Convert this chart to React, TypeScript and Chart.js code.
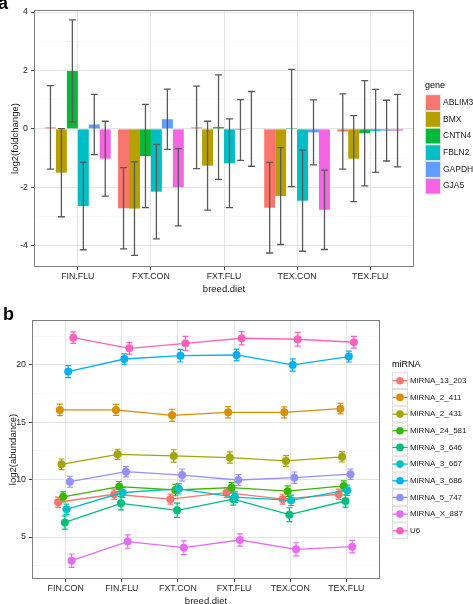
import React, { useEffect, useRef } from 'react';
import { Chart, registerables } from 'chart.js';
Chart.register(...registerables);

// ---------- Panel a data ----------
const breedDietA = ['FIN.FLU', 'FXT.CON', 'FXT.FLU', 'TEX.CON', 'TEX.FLU'];
const genes = ['ABLIM3', 'BMX', 'CNTN4', 'FBLN2', 'GAPDH', 'GJA5'];
const geneColors = ['#F8766D', '#B79F00', '#00BA38', '#00BFC4', '#619CFF', '#F564E3'];
const ablim3 = [0.05, -2.72, 0.05, -2.7, -0.09];
const ablim3Err = [1.43, 1.39, 1.41, 1.55, 1.29];
const bmx = [-1.5, -2.73, -1.26, -2.3, -1.02];
const bmxErr = [1.51, 1.6, 1.52, 1.66, 1.47];
const cntn4 = [1.98, -0.93, 0.06, 0.03, -0.15];
const cntn4Err = [1.75, 1.77, 1.79, 2.01, 1.8];
const fbln2 = [-2.64, -2.15, -1.18, -2.46, -0.07];
const fbln2Err = [1.5, 1.62, 1.52, 1.73, 1.42];
const gapdh = [0.15, 0.33, -0.04, -0.12, -0.06];
const gapdhErr = [1.03, 1.03, 1.04, 1.11, 1.04];
const gja5 = [-1.02, -2.0, 0.0, -2.77, -0.06];
const gja5Err = [1.28, 1.32, 1.28, 1.36, 1.24];
const yTicksA = [-4, -3, -2, -1, 0, 1, 2, 3, 4];
const yMajorA = [-4, -2, 0, 2, 4];

// ---------- Panel b data ----------
const breedDietB = ['FIN.CON', 'FIN.FLU', 'FXT.CON', 'FXT.FLU', 'TEX.CON', 'TEX.FLU'];
const mirnas = ['MiRNA_13_203', 'MiRNA_2_411', 'MiRNA_2_431', 'MiRNA_24_581', 'MiRNA_3_646', 'MiRNA_3_667', 'MiRNA_3_686', 'MiRNA_5_747', 'MiRNA_X_887', 'U6'];
const mirnaColors = ['#F8766D', '#D89000', '#A3A500', '#39B600', '#00BF7D', '#00BFC4', '#00B0F6', '#9590FF', '#E76BF3', '#FF62BC'];
const mirna13_203 = [8.03, 8.73, 8.3, 8.87, 8.3, 8.73];
const mirna13_203Err = [0.45, 0.44, 0.44, 0.44, 0.43, 0.44];
const mirna2_411 = [16.08, 16.08, 15.61, 15.87, 15.87, 16.19];
const mirna2_411Err = [0.5, 0.48, 0.53, 0.49, 0.48, 0.46];
const mirna2_431 = [11.34, 12.21, 12.07, 11.93, 11.63, 11.99];
const mirna2_431Err = [0.46, 0.44, 0.54, 0.49, 0.47, 0.45];
const mirna24_581 = [8.5, 9.4, 9.1, 9.3, 9.0, 9.45];
const mirna24_581Err = [0.44, 0.44, 0.5, 0.45, 0.46, 0.44];
const mirna3_646 = [6.27, 7.94, 7.33, 8.3, 6.95, 8.14];
const mirna3_646Err = [0.58, 0.58, 0.62, 0.52, 0.6, 0.54];
const mirna3_667 = [7.42, 8.88, 9.2, 8.48, 8.2, 9.08];
const mirna3_667Err = [0.44, 0.43, 0.45, 0.46, 0.45, 0.45];
const mirna3_686 = [19.42, 20.52, 20.81, 20.87, 20.0, 20.73];
const mirna3_686Err = [0.52, 0.44, 0.55, 0.51, 0.53, 0.47];
const mirna5_747 = [9.82, 10.7, 10.4, 9.97, 10.17, 10.48];
const mirna5_747Err = [0.48, 0.45, 0.53, 0.48, 0.5, 0.45];
const mirnaX_887 = [2.94, 4.6, 4.07, 4.74, 3.93, 4.16];
const mirnaX_887Err = [0.58, 0.58, 0.6, 0.53, 0.57, 0.54];
const u6 = [22.38, 21.45, 21.89, 22.33, 22.24, 21.98];
const u6Err = [0.5, 0.51, 0.61, 0.57, 0.6, 0.51];
const yTicksB = [2.5, 5, 7.5, 10, 12.5, 15, 17.5, 20, 22.5];
const yMajorB = [5, 10, 15, 20];

const seriesA = [ablim3, bmx, cntn4, fbln2, gapdh, gja5];
const errA = [ablim3Err, bmxErr, cntn4Err, fbln2Err, gapdhErr, gja5Err];
const seriesB = [mirna13_203, mirna2_411, mirna2_431, mirna24_581, mirna3_646, mirna3_667, mirna3_686, mirna5_747, mirnaX_887, u6];
const errB = [mirna13_203Err, mirna2_411Err, mirna2_431Err, mirna24_581Err, mirna3_646Err, mirna3_667Err, mirna3_686Err, mirna5_747Err, mirnaX_887Err, u6Err];

const FONT = "'Liberation Sans', Arial, Helvetica, sans-serif";
const DODGE = 0.3;
const TICK_COLOR = '#262626';

const gridOpts = (major: number[] | null) => ({
  color: (c: any) => (major === null || major.includes(c.tick?.value) ? '#E4E4E4' : '#F3F3F3'),
  lineWidth: (c: any) => (major === null || major.includes(c.tick?.value) ? 1 : 0.6),
  tickColor: (c: any) => (major === null || major.includes(c.tick?.value) ? '#444444' : 'rgba(0,0,0,0)'),
  tickWidth: 1,
  tickLength: 3,
  drawTicks: true,
  offset: false,
});

const borderPlugin = {
  id: 'panelBorder',
  afterDatasetsDraw(chart: any) {
    const { ctx, chartArea: a } = chart;
    ctx.save();
    ctx.strokeStyle = '#7F7F7F';
    ctx.lineWidth = 1;
    ctx.strokeRect(Math.round(a.left) + 0.5, Math.round(a.top) + 0.5, Math.round(a.right - a.left) - 1, Math.round(a.bottom - a.top) - 1);
    ctx.restore();
  },
};

const titlesPlugin = (xTitle: string, yTitle: string, panel: string, px: number, py: number) => ({
  id: 'titles',
  afterDraw(chart: any) {
    const { ctx, chartArea: a } = chart;
    ctx.save();
    ctx.fillStyle = '#1a1a1a';
    ctx.font = `9.5px ${FONT}`;
    ctx.textAlign = 'center';
    ctx.textBaseline = 'middle';
    ctx.fillText(xTitle, (a.left + a.right) / 2, a.bottom + 22);
    ctx.translate(a.left - 18.5, (a.top + a.bottom) / 2);
    ctx.rotate(-Math.PI / 2);
    ctx.fillText(yTitle, 0, 0);
    ctx.restore();
    ctx.save();
    ctx.fillStyle = '#000';
    ctx.font = `bold 18px ${FONT}`;
    ctx.textAlign = 'left';
    ctx.textBaseline = 'alphabetic';
    ctx.fillText(panel, px, py);
    ctx.restore();
  },
});

const errorBarsA = {
  id: 'errA',
  afterDatasetsDraw(chart: any) {
    const { ctx } = chart;
    const y = chart.scales.y;
    ctx.save();
    ctx.strokeStyle = '#595959';
    ctx.lineWidth = 1.3;
    chart.data.datasets.forEach((ds: any, k: number) => {
      const meta = chart.getDatasetMeta(k);
      meta.data.forEach((el: any, i: number) => {
        const v = ds.data[i].y;
        const e = ds.err[i];
        const yh = y.getPixelForValue(v + e);
        const yl = y.getPixelForValue(v - e);
        const x = el.x;
        ctx.beginPath();
        ctx.moveTo(x, yh);
        ctx.lineTo(x, yl);
        ctx.moveTo(x - 3.5, yh);
        ctx.lineTo(x + 3.5, yh);
        ctx.moveTo(x - 3.5, yl);
        ctx.lineTo(x + 3.5, yl);
        ctx.stroke();
      });
    });
    ctx.restore();
  },
};

const errorBarsB = {
  id: 'errB',
  beforeDatasetsDraw(chart: any) {
    const { ctx } = chart;
    const y = chart.scales.y;
    ctx.save();
    ctx.lineWidth = 1.2;
    chart.data.datasets.forEach((ds: any, k: number) => {
      const meta = chart.getDatasetMeta(k);
      ctx.strokeStyle = ds.borderColor;
      meta.data.forEach((el: any, i: number) => {
        const v = ds.data[i].y;
        const e = ds.err[i];
        const yh = y.getPixelForValue(v + e);
        const yl = y.getPixelForValue(v - e);
        const x = el.x;
        ctx.beginPath();
        ctx.moveTo(x, yh);
        ctx.lineTo(x, yl);
        ctx.moveTo(x - 3, yh);
        ctx.lineTo(x + 3, yh);
        ctx.moveTo(x - 3, yl);
        ctx.lineTo(x + 3, yl);
        ctx.stroke();
      });
    });
    ctx.restore();
  },
};

const legendA = {
  id: 'legendA',
  afterDraw(chart: any) {
    const { ctx } = chart;
    const x0 = 425;
    ctx.save();
    ctx.fillStyle = '#000';
    ctx.font = `9px ${FONT}`;
    ctx.textBaseline = 'middle';
    ctx.textAlign = 'left';
    ctx.fillText('gene', x0, 86);
    const h = 16.7;
    chart.data.datasets.forEach((ds: any, k: number) => {
      const top = 94.3 + k * h;
      ctx.fillStyle = '#ffffff';
      ctx.fillRect(x0, top, 16, h);
      ctx.fillStyle = ds.backgroundColor;
      ctx.fillRect(x0 + 0.5, top + 0.5, 15, h - 1);
      ctx.strokeStyle = '#E6E6E6';
      ctx.lineWidth = 0.8;
      ctx.strokeRect(x0 + 0.5, top + 0.5, 15, h - 1);
      ctx.fillStyle = '#1a1a1a';
      ctx.font = `8.5px ${FONT}`;
      ctx.fillText(ds.label, x0 + 18, top + h / 2);
    });
    ctx.restore();
  },
};

const legendB = {
  id: 'legendB',
  afterDraw(chart: any) {
    const { ctx } = chart;
    const x0 = 392;
    ctx.save();
    ctx.fillStyle = '#000';
    ctx.font = `9px ${FONT}`;
    ctx.textBaseline = 'middle';
    ctx.textAlign = 'left';
    ctx.fillText('miRNA', x0, 65);
    const h = 16.67;
    chart.data.datasets.forEach((ds: any, k: number) => {
      const top = 72.4 + k * h;
      ctx.fillStyle = '#ffffff';
      ctx.fillRect(x0, top, 16, h);
      ctx.strokeStyle = '#D6D6D6';
      ctx.lineWidth = 0.8;
      ctx.strokeRect(x0 + 0.5, top + 0.5, 15, h - 1);
      const cy = top + h / 2;
      ctx.strokeStyle = ds.borderColor;
      ctx.lineWidth = 1.3;
      ctx.beginPath();
      ctx.moveTo(x0 + 0.5, cy);
      ctx.lineTo(x0 + 15.5, cy);
      ctx.stroke();
      ctx.fillStyle = ds.borderColor;
      ctx.beginPath();
      ctx.arc(x0 + 8, cy, 3.8, 0, Math.PI * 2);
      ctx.fill();
      ctx.fillStyle = '#1a1a1a';
      ctx.font = `8px ${FONT}`;
      ctx.fillText(ds.label, x0 + 18, cy);
    });
    ctx.restore();
  },
};

function ChartA() {
  const ref = useRef<HTMLCanvasElement>(null);
  useEffect(() => {
    const chart = new Chart(ref.current!, {
      type: 'bar',
      data: {
        datasets: genes.map((g, k) => ({
          label: g,
          data: seriesA[k].map((v, i) => ({ x: i, y: v })),
          err: errA[k],
          backgroundColor: geneColors[k],
          borderWidth: 0,
          categoryPercentage: 0.9,
          barPercentage: 1,
        })) as any,
      },
      options: {
        animation: false,
        responsive: false,
        events: [],
        layout: { padding: { top: 10, right: 59, left: 0, bottom: 0 } },
        plugins: { legend: { display: false }, tooltip: { enabled: false } },
        scales: {
          x: {
            type: 'linear',
            min: -0.6,
            max: 4.6,
            offset: false,
            afterBuildTicks: (s: any) => {
              s.ticks = breedDietA.map((_, i) => ({ value: i }));
            },
            afterFit: (s: any) => {
              s.height = 33;
            },
            ticks: {
              autoSkip: false,
              maxRotation: 0,
              padding: 1,
              color: TICK_COLOR,
              font: { family: FONT, size: 8.8 },
              callback: (v: any) => breedDietA[v] ?? '',
            },
            grid: gridOpts(null) as any,
            border: { display: false },
          },
          y: {
            type: 'linear',
            min: -4.73,
            max: 4.07,
            afterBuildTicks: (s: any) => {
              s.ticks = yTicksA.map((v) => ({ value: v }));
            },
            afterFit: (s: any) => {
              s.width = 34;
            },
            ticks: {
              padding: 3,
              color: TICK_COLOR,
              font: { family: FONT, size: 8.8 },
              callback: (v: any) => (yMajorA.includes(v) ? String(v) : ''),
            },
            grid: gridOpts(yMajorA) as any,
            border: { display: false },
          },
        },
      },
      plugins: [errorBarsA, borderPlugin, legendA, titlesPlugin('breed.diet', 'log2(foldchange)', 'a', -2, 9)],
    } as any);
    return () => chart.destroy();
  }, []);
  return <canvas ref={ref} width={473} height={300} style={{ display: 'block', width: 473, height: 300 }} />;
}

function ChartB() {
  const ref = useRef<HTMLCanvasElement>(null);
  useEffect(() => {
    const n = mirnas.length;
    const chart = new Chart(ref.current!, {
      type: 'line',
      data: {
        datasets: mirnas.map((m, k) => ({
          label: m,
          data: seriesB[k].map((v, i) => ({ x: i + DODGE * ((k + 0.5) / n - 0.5), y: v })),
          err: errB[k],
          borderColor: mirnaColors[k],
          backgroundColor: mirnaColors[k],
          borderWidth: 1.3,
          pointRadius: 4,
          pointBorderWidth: 0,
          pointBackgroundColor: mirnaColors[k],
          tension: 0,
          order: n - k,
        })) as any,
      },
      options: {
        animation: false,
        responsive: false,
        events: [],
        layout: { padding: { top: 20, right: 93, left: 0, bottom: 0 } },
        plugins: { legend: { display: false }, tooltip: { enabled: false } },
        scales: {
          x: {
            type: 'linear',
            min: -0.6,
            max: 5.6,
            offset: false,
            afterBuildTicks: (s: any) => {
              s.ticks = breedDietB.map((_, i) => ({ value: i }));
            },
            afterFit: (s: any) => {
              s.height = 25;
            },
            ticks: {
              autoSkip: false,
              maxRotation: 0,
              padding: 1,
              color: TICK_COLOR,
              font: { family: FONT, size: 8.8 },
              callback: (v: any) => breedDietB[v] ?? '',
            },
            grid: gridOpts(null) as any,
            border: { display: false },
          },
          y: {
            type: 'linear',
            min: 1.34,
            max: 23.92,
            afterBuildTicks: (s: any) => {
              s.ticks = yTicksB.map((v) => ({ value: v }));
            },
            afterFit: (s: any) => {
              s.width = 32;
            },
            ticks: {
              padding: 3,
              color: TICK_COLOR,
              font: { family: FONT, size: 8.8 },
              callback: (v: any) => (yMajorB.includes(v) ? String(v) : ''),
            },
            grid: gridOpts(yMajorB) as any,
            border: { display: false },
          },
        },
      },
      plugins: [errorBarsB, borderPlugin, legendB, titlesPlugin('breed.diet', 'log2(abundance)', 'b', 3, 20)],
    } as any);
    return () => chart.destroy();
  }, []);
  return <canvas ref={ref} width={473} height={304} style={{ display: 'block', width: 473, height: 304 }} />;
}

export default function App() {
  return (
    <div style={{ position: 'absolute', left: 0, top: 0, width: 473, height: 604, background: '#ffffff', overflow: 'hidden' }}>
      <ChartA />
      <ChartB />
    </div>
  );
}
